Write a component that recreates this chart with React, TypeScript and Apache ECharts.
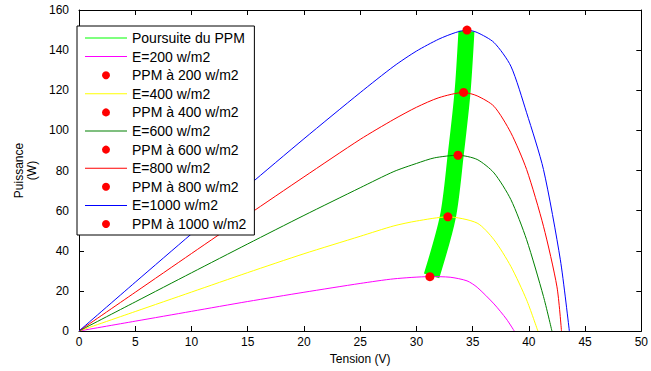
import React, { useEffect, useRef } from "react";
import * as echarts from "echarts";

const irradiances = [200, 400, 600, 800, 1000];
const curveColors = ["#ff00ff", "#ffff00", "#008000", "#ff0000", "#0000ff"];

const tension200 = [0, 5, 10, 15, 20, 25, 28, 31.2, 33, 34.5, 35.4, 36.9, 38, 38.7];
const puissance200 = [0, 4.9, 9.8, 14.7, 19.3, 23.7, 26, 27.1, 26.8, 25, 21.8, 13.5, 6, 0];

const tension400 = [0, 5, 10, 15, 20, 25, 28, 30, 32.8, 35.4, 36.9, 38.4, 39.8, 40.8];
const puissance400 = [0, 9.7, 19.4, 29.1, 38.5, 47.2, 52.4, 54.8, 56.9, 53.8, 45.5, 32.2, 15.5, 0];

const tension600 = [0, 5, 10, 15, 20, 25, 28, 30, 31.6, 33.7, 35.4, 36.9, 38.4, 39.8, 41.3, 42.05];
const puissance600 = [0, 14.5, 29, 43.4, 57.6, 71.4, 79.5, 83.5, 86.3, 87.6, 85.5, 78.8, 65.5, 45.5, 17.2, 0];

const tension800 = [0, 5, 10, 15, 20, 25, 28, 30, 32, 34.2, 35.4, 36.9, 38.4, 39.8, 41.3, 42.5, 42.9];
const puissance800 = [0, 19.3, 38.6, 57.8, 76.8, 95.5, 105.5, 111.5, 116.3, 118.9, 117.2, 112, 98.8, 80.5, 52.2, 22, 0];

const tension1000 = [0, 5, 10, 15, 20, 25, 28, 30, 32, 33.5, 34.5, 35.4, 36.9, 38.4, 39.8, 41.3, 42.8, 43.6];
const puissance1000 = [0, 24.3, 48.4, 72.2, 95.8, 118.8, 132, 139.5, 145.5, 148.8, 150, 148.8, 143.8, 132, 108.8, 80.5, 35.5, 0];

const mppTension = [31.2, 32.8, 33.7, 34.2, 34.5];
const mppPuissance = [27.1, 56.9, 87.6, 118.9, 150];

const trackTension = [31.35, 32.8, 33.5, 34.1, 34.45];
const trackPuissance = [27.5, 57, 88, 119, 149.5];

const curves = [
  [tension200, puissance200],
  [tension400, puissance400],
  [tension600, puissance600],
  [tension800, puissance800],
  [tension1000, puissance1000],
];

const FONT = "'Liberation Sans', Arial, sans-serif";
const LINE_ICON = "path://M0,0h42v1h-42z";

export default function App() {
  const ref = useRef<HTMLDivElement>(null);
  useEffect(() => {
    if (!ref.current) return;
    const chart = echarts.init(ref.current, undefined, { renderer: "svg" });

    const series: any[] = [];
    const legendData: any[] = [];
    series.push({
      name: "Poursuite du PPM",
      type: "line",
      color: "#00ff00",
      data: trackTension.map((v, i) => [v, trackPuissance[i]]),
      symbol: "none",
      smooth: 0.3,
      lineStyle: { color: "#00ff00", width: 16, cap: "butt" },
      itemStyle: { color: "#00ff00" },
      z: 2,
    });
    legendData.push({
      name: "Poursuite du PPM",
      icon: LINE_ICON,
      itemStyle: { color: "#00ff00", borderWidth: 0 },
    });

    irradiances.forEach((e, k) => {
      const name = `E=${e} w/m2`;
      series.push({
        name,
        type: "line",
        color: curveColors[k],
        data: curves[k][0].map((v, i) => [v, curves[k][1][i]]),
        symbol: "none",
        smooth: 0.25,
        lineStyle: { color: curveColors[k], width: 1 },
        itemStyle: { color: curveColors[k] },
        z: 3,
      });
      legendData.push({
        name,
        icon: LINE_ICON,
        itemStyle: { color: curveColors[k], borderWidth: 0 },
      });
      const pname = `PPM à ${e} w/m2`;
      series.push({
        name: pname,
        type: "scatter",
        color: "#ff0000",
        data: [[mppTension[k], mppPuissance[k]]],
        symbol: "circle",
        symbolSize: 9,
        itemStyle: { color: "#ff0000", opacity: 1 },
        z: 4,
      });
      legendData.push({ name: pname, icon: "circle", itemStyle: { color: "#ff0000", opacity: 1 } });
    });

    const axisCommon = {
      type: "value",
      axisLine: { show: true, onZero: false, lineStyle: { color: "#000", width: 1 } },
      axisTick: { show: true, inside: true, length: 5, lineStyle: { color: "#000" } },
      splitLine: { show: false },
    };

    chart.setOption({
      animation: false,
      backgroundColor: "#ffffff",
      textStyle: { fontFamily: FONT },
      grid: { left: 79, right: 6, top: 10, bottom: 40 },
      legend: {
        orient: "vertical",
        left: 77,
        top: 26,
        data: legendData,
        itemWidth: 42,
        itemHeight: 8,
        itemGap: 4.6,
        padding: [5, 8, 4, 8],
        borderColor: "#000",
        borderWidth: 1,
        backgroundColor: "#ffffff",
        borderRadius: 0,
        textStyle: { fontFamily: FONT, fontSize: 14, color: "#000", lineHeight: 14 },
        z: 10,
      },
      xAxis: [
        {
          ...axisCommon,
          min: 0,
          max: 50,
          interval: 5,
          position: "bottom",
          name: "Tension (V)",
          nameLocation: "middle",
          nameGap: 20,
          nameTextStyle: { color: "#000", fontSize: 12, fontFamily: FONT },
          axisLabel: { color: "#000", fontSize: 12, margin: 5, fontFamily: FONT },
        },
        {
          ...axisCommon,
          min: 0,
          max: 50,
          interval: 5,
          position: "top",
          axisLabel: { show: false },
        },
      ],
      yAxis: [
        {
          ...axisCommon,
          min: 0,
          max: 160,
          interval: 20,
          position: "left",
          name: "Puissance\n(W)",
          nameLocation: "middle",
          nameGap: 38,
          nameTextStyle: { color: "#000", fontSize: 12, fontFamily: FONT, lineHeight: 13 },
          axisLabel: { color: "#000", fontSize: 12, margin: 10, fontFamily: FONT },
        },
        {
          ...axisCommon,
          min: 0,
          max: 160,
          interval: 20,
          position: "right",
          axisLabel: { show: false },
        },
      ],
      series,
    });
    return () => chart.dispose();
  }, []);
  return (
    <div
      ref={ref}
      style={{ position: "fixed", left: 0, top: 0, width: 651, height: 371, background: "#fff" }}
    />
  );
}
